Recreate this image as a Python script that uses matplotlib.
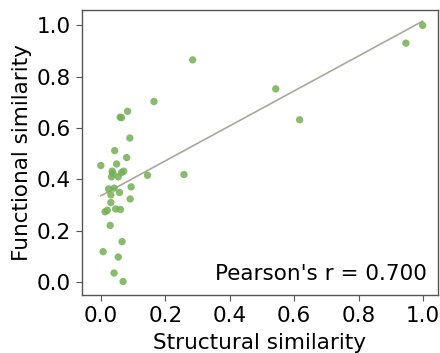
import matplotlib
matplotlib.use("Agg")
import matplotlib.pyplot as plt
import numpy as np

# structural vs functional similarity
structural = [0.165, 0.083, 0.060, 0.064, 0.090, 0.043, 0.080, 0.049, 0.000,
              0.035, 0.038, 0.033, 0.054, 0.064, 0.071, 0.145, 0.024, 0.041,
              0.094, 0.031, 0.058, 0.091, 0.031, 0.013, 0.020, 0.046, 0.061,
              0.029, 0.066, 0.007, 0.054, 0.041, 0.069,
              0.285, 0.543, 0.617, 0.947, 0.999, 0.258]
functional = [0.703, 0.665, 0.642, 0.640, 0.561, 0.512, 0.485, 0.460, 0.454,
              0.432, 0.423, 0.410, 0.410, 0.427, 0.432, 0.416, 0.363, 0.366,
              0.371, 0.340, 0.349, 0.324, 0.310, 0.274, 0.280, 0.285, 0.283,
              0.221, 0.158, 0.119, 0.098, 0.036, 0.003,
              0.865, 0.752, 0.632, 0.930, 0.999, 0.419]
pearson_r = 0.700

x = np.array(structural)
y = np.array(functional)

FS = 15.5

fig = plt.figure(figsize=(4.4, 3.53), dpi=100)
ax = fig.add_axes([0.186, 0.164, 0.809, 0.807])

ax.scatter(x, y, s=28, color="#74b054", alpha=0.85, edgecolors="none", zorder=3)

# least squares fit drawn across the data range
slope, intercept = np.polyfit(x, y, 1)
xs = np.array([x.min(), x.max()])
ax.plot(xs, slope * xs + intercept, color="#a9a89c", linewidth=1.2, zorder=2)

ax.text(0.968, 0.04, f"Pearson's r = {pearson_r:.3f}", transform=ax.transAxes,
        ha="right", va="bottom", fontsize=FS)

ax.set_xlim(-0.059, 1.046)
ax.set_ylim(-0.05, 1.058)
ax.set_xticks([0.0, 0.2, 0.4, 0.6, 0.8, 1.0])
ax.set_yticks([0.0, 0.2, 0.4, 0.6, 0.8, 1.0])
ax.tick_params(labelsize=FS, length=4.5, color="#555555")
ax.set_xlabel("Structural similarity", fontsize=FS, labelpad=5)
ax.set_ylabel("Functional similarity", fontsize=FS, labelpad=3)
for spine in ax.spines.values():
    spine.set_color("#555555")
    spine.set_linewidth(1.0)

fig.savefig("out.png", dpi=100)
